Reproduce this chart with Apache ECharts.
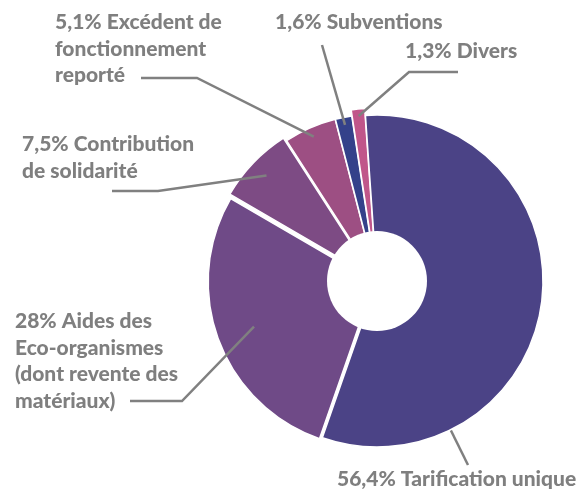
<!DOCTYPE html>
<html>
<head>
<meta charset="utf-8">
<script src="https://cdn.jsdelivr.net/npm/echarts@6/dist/echarts.min.js"></script>
<style>
  html, body { margin: 0; padding: 0; background: #ffffff; }
  #chart { width: 583px; height: 490px; }
</style>
</head>
<body>
<div id="chart"></div>
<script>
// Recettes du service : répartition en pourcentage
const labels = [
  'Tarification unique',
  'Aides des\nEco-organismes\n(dont revente des\nmatériaux)',
  'Contribution\nde solidarité',
  'Excédent de\nfonctionnement\nreporté',
  'Subventions',
  'Divers'
];
const shares = [56.4, 28, 7.5, 5.1, 1.6, 1.3];
const colors = ['#4b4386', '#6f4a87', '#7d4b84', '#9d4f83', '#34418a', '#c0568a'];

// how far each slice is pulled out of the pie (px)
const pullOut = [0, 3, 5, 1, 1, 7];

// text block (left, top), leader path from the text toward the pie, anchor depth
const labelBoxes = [
  { x: 337, y: 466, path: [[468, 465]], k: 0.81, radialToEnd: true },
  { x: 15,  y: 308, path: [[130, 401], [182, 401]], k: 0.79 },
  { x: 22,  y: 131, path: [[112, 191], [158, 191]], k: 0.92 },
  { x: 55,  y: 9,   path: [[141, 78], [197, 78]], k: 0.95 },
  { x: 275, y: 9,   path: [[322, 45]], k: 0.96 },
  { x: 405, y: 38,  path: [[458, 72], [409, 72]], k: 1.0 }
];

const CENTER = [377, 281];
const R = 166;
const HOLE = 50;
const START = 94;
const total = shares.reduce((a, b) => a + b, 0);

function pct(v) {
  return String(v).replace('.', ',') + '%';
}

function midAngleRad(i) {
  let cum = 0;
  for (let j = 0; j < i; j++) cum += shares[j];
  const deg = START - (cum + shares[i] / 2) / total * 360;
  return deg * Math.PI / 180;
}

function placeLabel(p) {
  const i = p.dataIndex;
  const box = labelBoxes[i];
  const path = box.path;
  let ux, uy;
  if (box.radialToEnd) {
    const end = path[path.length - 1];
    ux = end[0] - CENTER[0];
    uy = end[1] - CENTER[1];
  } else if (p.labelLinePoints && p.labelLinePoints[0]) {
    ux = p.labelLinePoints[0][0] - CENTER[0];
    uy = p.labelLinePoints[0][1] - CENTER[1];
  } else {
    const a = midAngleRad(i);
    ux = Math.cos(a);
    uy = -Math.sin(a);
  }
  const len = Math.sqrt(ux * ux + uy * uy) || 1;
  const anchor = [CENTER[0] + ux / len * R * box.k, CENTER[1] + uy / len * R * box.k];
  const pts = [anchor].concat(path.slice().reverse());
  return {
    x: box.x,
    y: box.y,
    align: 'left',
    verticalAlign: 'top',
    labelLinePoints: pts
  };
}

const groups = [];
pullOut.forEach(g => { if (groups.indexOf(g) < 0) groups.push(g); });

const series = groups.map((g, gi) => {
  const withLabels = gi === 0;
  return {
    type: 'pie',
    center: CENTER,
    radius: [0, R],
    startAngle: START,
    clockwise: true,
    selectedMode: 'multiple',
    selectedOffset: g,
    avoidLabelOverlap: false,
    animation: false,
    silent: true,
    z: withLabels ? 4 : 2,
    emphasis: { disabled: true },
    label: withLabels ? {
      show: true,
      position: 'outside',
      formatter: p => pct(p.value) + ' ' + p.name,
      fontFamily: 'Lato',
      fontWeight: 900,
      fontSize: 21,
      lineHeight: 26.5,
      color: '#7f7f7f'
    } : { show: false },
    labelLine: withLabels ? {
      show: true,
      smooth: false,
      lineStyle: { color: '#808080', width: 2.5 }
    } : { show: false },
    labelLayout: withLabels ? placeLabel : undefined,
    data: labels.map((name, i) => {
      const mine = pullOut[i] === g;
      const style = mine
        ? { color: colors[i], borderColor: '#ffffff', borderWidth: 1.5 }
        : { color: 'rgba(0,0,0,0)', borderWidth: 0 };
      return {
        name: name,
        value: shares[i],
        selected: mine && g > 0,
        itemStyle: style,
        select: { itemStyle: style }
      };
    })
  };
});

// white centre of the doughnut
series.push({
  type: 'pie',
  center: CENTER,
  radius: [0, HOLE],
  silent: true,
  animation: false,
  z: 5,
  label: { show: false },
  labelLine: { show: false },
  emphasis: { disabled: true },
  data: [{ value: 1, itemStyle: { color: '#ffffff' } }]
});

const chart = echarts.init(document.getElementById('chart'), null, { renderer: 'canvas' });
chart.setOption({
  backgroundColor: '#ffffff',
  animation: false,
  series: series
});
</script>
</body>
</html>
